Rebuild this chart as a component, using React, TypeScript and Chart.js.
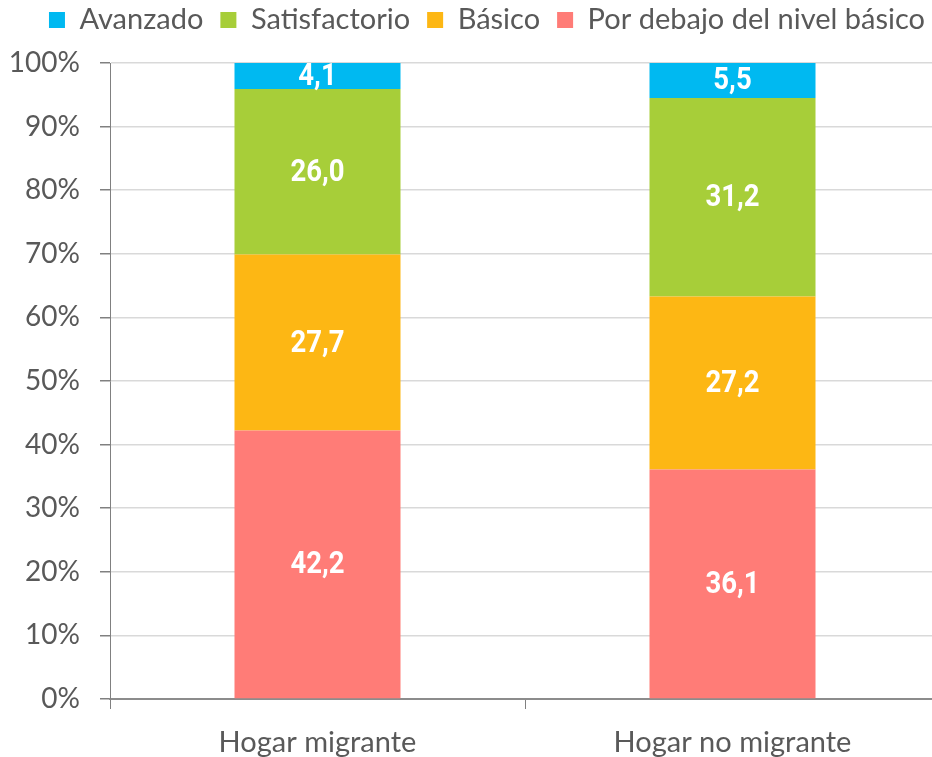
import React, { useEffect, useRef } from "react";
import { Chart, registerables } from "chart.js";
Chart.register(...registerables);

const categories = ["Hogar migrante", "Hogar no migrante"];
const levelNames = ["Por debajo del nivel básico", "Básico", "Satisfactorio", "Avanzado"];
const porDebajo = [42.2, 36.1];
const basico = [27.7, 27.2];
const satisfactorio = [26.0, 31.2];
const avanzado = [4.1, 5.5];
const levelColors = ["#FF7C77", "#FDB714", "#A7CE39", "#00B9F1"];

const TEXT = "#595959";
const FONT = "Lato, 'Open Sans', sans-serif";

const labelPlugin = {
  id: "segLabels",
  afterDatasetsDraw(chart: any) {
    const ctx = chart.ctx;
    chart.data.datasets.forEach((ds: any, i: number) => {
      const meta = chart.getDatasetMeta(i);
      meta.data.forEach((bar: any, j: number) => {
        const v = ds.data[j] as number;
        ctx.save();
        ctx.font = "bold 32px Roboto, 'DejaVu Sans', sans-serif";
        ctx.fillStyle = "#ffffff";
        ctx.textAlign = "center";
        ctx.textBaseline = "middle";
        ctx.translate(bar.x, (bar.y + bar.base) / 2 + 1);
        ctx.scale(0.86, 1);
        ctx.fillText(v.toFixed(1).replace(".", ","), 0, 0);
        ctx.restore();
      });
    });
  },
};

const legendTweak = {
  id: "legendTweak",
  beforeInit(chart: any) {
    const lg = chart.legend;
    if (!lg) return;
    const origFit = lg.fit;
    lg.fit = function () {
      origFit.call(this);
      this.height = 63;
    };
    const origDraw = lg.draw;
    lg.draw = function (...args: any[]) {
      const ctx = this.ctx;
      ctx.save();
      ctx.translate(2, -11.5);
      origDraw.apply(this, args);
      ctx.restore();
    };
  },
};

export default function App() {
  const ref = useRef<HTMLCanvasElement>(null);
  useEffect(() => {
    if (!ref.current) return;
    const series = [porDebajo, basico, satisfactorio, avanzado];
    const chart = new Chart(ref.current, {
      type: "bar",
      data: {
        labels: categories,
        datasets: series.map((d, i) => ({
          label: levelNames[i],
          data: d,
          backgroundColor: levelColors[i],
          borderWidth: 0,
          categoryPercentage: 1,
          barPercentage: 0.4,
        })),
      },
      options: {
        animation: false,
        responsive: false,
        devicePixelRatio: 1,
        layout: { padding: { left: 0, right: 5, top: 0, bottom: 0 } },
        plugins: {
          tooltip: { enabled: false },
          legend: {
            position: "top",
            align: "end",
            reverse: true,
            labels: {
              boxWidth: 16,
              boxHeight: 16,
              padding: 17,
              color: TEXT,
              font: { family: FONT, size: 29 },
            },
          },
        },
        scales: {
          x: {
            stacked: true,
            offset: true,
            grid: {
              display: true,
              drawOnChartArea: false,
              offset: true,
              tickLength: 10,
              tickColor: "#808080",
            },
            border: { display: true, color: "#8c8c8c", width: 2 },
            ticks: { color: TEXT, font: { family: FONT, size: 29 }, padding: 16 },
            afterFit: (s: any) => {
              s.height = 58;
            },
          },
          y: {
            stacked: true,
            min: 0,
            max: 100,
            ticks: {
              stepSize: 10,
              color: TEXT,
              font: { family: FONT, size: 28 },
              padding: 20,
              callback: (v: any) => v + "%",
            },
            grid: { color: "#d9d9d9", lineWidth: 1.5, tickLength: 10, tickColor: "#808080" },
            border: { display: true, color: "#808080", width: 1 },
            afterFit: (s: any) => {
              s.width = 110;
            },
          },
        },
      },
      plugins: [legendTweak, labelPlugin],
    });
    return () => chart.destroy();
  }, []);
  return (
    <div
      style={{
        position: "fixed",
        left: 0,
        top: 0,
        width: 932,
        height: 757,
        overflow: "hidden",
        background: "#ffffff",
      }}
    >
      <canvas ref={ref} width={945} height={757} style={{ display: "block" }} />
    </div>
  );
}
